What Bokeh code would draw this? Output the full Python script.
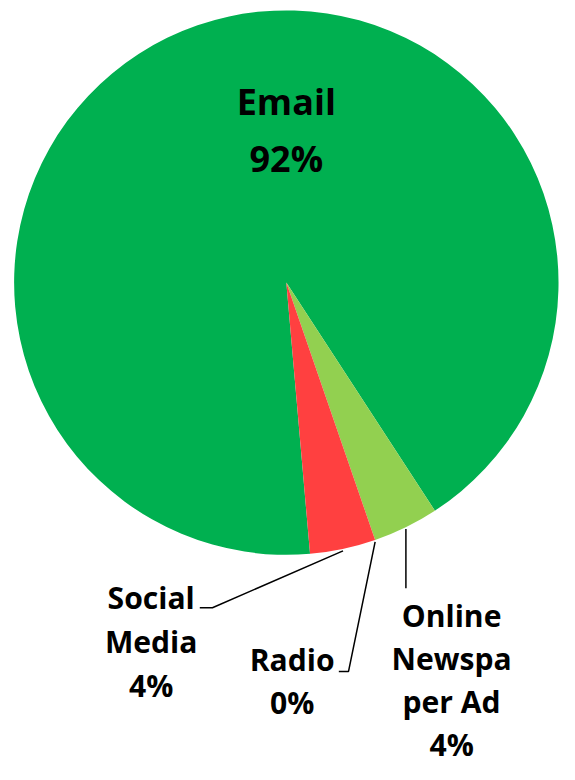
import math
from bokeh.plotting import figure
from bokeh.models import Range1d, ColumnDataSource
from bokeh.core.properties import value
from bokeh.embed import file_html
from bokeh.resources import INLINE

# ---- data ----
channels = ["Email", "Online Newspaper Ad", "Radio", "Social Media"]
shares = [92.2, 3.9, 0.0, 3.9]
label_lines = [["Email"], ["Online", "Newspa", "per Ad"], ["Radio"], ["Social", "Media"]]
colors = ["#00B050", "#92D050", "#A5A5A5", "#FF4040"]

# ---- layout ----
W, H = 559, 764          # figure size that fits the window
RW, RH = 575, 780        # design space (reference pixels)
K = W / RW               # px per design unit (for font sizes)

def fy(iy):
    return RH - iy

first_angle = 175.0  # degrees clockwise from 12 o'clock
cx, cy, R = 294, fy(288), 280

p = figure(width=W, height=H, output_backend="svg", toolbar_location=None,
           x_range=Range1d(0, RW), y_range=Range1d(0, RH),
           x_axis_type=None, y_axis_type=None, min_border=0)
p.outline_line_color = None
p.xgrid.visible = False
p.ygrid.visible = False
p.background_fill_color = "white"

total = sum(shares)
starts, ends = [], []
acc = first_angle
for v in shares:
    starts.append(acc)
    acc += v / total * 360.0
    ends.append(acc)

wx, wy, ws, we, wc = [], [], [], [], []
for s, e, v, c in zip(starts, ends, shares, colors):
    if v <= 0:
        continue
    wx.append(cx); wy.append(cy)
    ws.append(math.pi / 2 - math.radians(s))
    we.append(math.pi / 2 - math.radians(e))
    wc.append(c)
src = ColumnDataSource(dict(x=wx, y=wy, s=ws, e=we, c=wc))
p.wedge(x="x", y="y", radius=R, start_angle="s", end_angle="e",
        direction="clock", fill_color="c", line_color=None, source=src)

def edge_point(i):
    a = math.radians((starts[i] + ends[i]) / 2)
    return cx + R * math.sin(a), cy + R * math.cos(a)

font = value("Open Sans")

def fsz(px):
    return f"{px * K:.1f}px"

# label placement: (center x, first line middle y, line spacing, font size) in design px
label_pos = {
    "Email": (294, 103, 58, 37),
    "Online Newspaper Ad": (464, 628, 44, 31),
    "Radio": (300, 673, 44, 31),
    "Social Media": (155, 609, 45, 31),
}
leaders = {
    "Online Newspaper Ad": [(None, 600)],
    "Radio": [(358, 685), (348, 685)],
    "Social Media": [(218, 620), (205, 620)],
}

for i, name in enumerate(channels):
    lx, ly, dy, fs = label_pos[name]
    lines = label_lines[i] + [f"{round(shares[i])}%"]
    xs = [lx] * len(lines)
    ys = [fy(ly + k * dy) for k in range(len(lines))]
    p.text(x=xs, y=ys, text=lines, text_font=font, text_font_style="bold",
           text_font_size=fsz(fs), text_color="black", text_align="center",
           text_baseline="middle")
    if name in leaders:
        ex, ey = edge_point(i)
        px, py = [ex], [ey]
        for (ax, ay) in leaders[name]:
            px.append(ex if ax is None else ax)
            py.append(fy(ay))
        p.line(px, py, line_color="black", line_width=1.5)

open("out.html", "w").write(file_html(p, INLINE))
